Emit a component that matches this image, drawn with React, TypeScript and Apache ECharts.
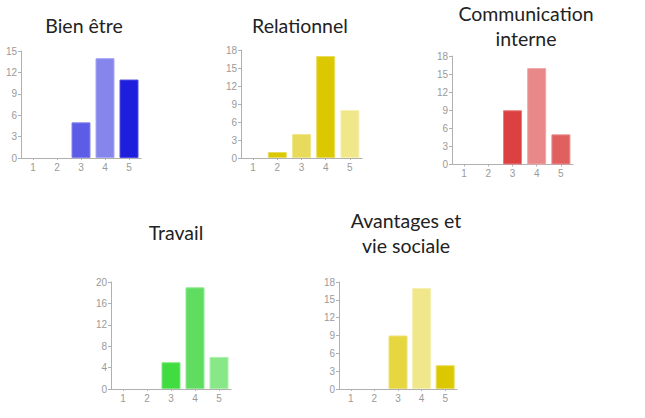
import React, { useEffect, useRef } from 'react';
import * as echarts from 'echarts';

const categories = ['1', '2', '3', '4', '5'];
const titles = ['Bien être', 'Relationnel', 'Communication\ninterne', 'Travail', 'Avantages et\nvie sociale'];
const bienEtre = [0, 0, 5, 14, 11];
const relationnel = [0, 1, 4, 17, 8];
const communication = [0, 0, 9, 16, 5];
const travail = [0, 0, 5, 19, 6];
const avantages = [0, 0, 9, 17, 4];
const yMax = [15, 18, 18, 20, 18];
const yInterval = [3, 3, 3, 4, 3];

const seriesValues = [bienEtre, relationnel, communication, travail, avantages];

// styles
const barColors = [
  ['#5c5ce6', '#5c5ce6', '#5c5ce6', '#8585ec', '#1e1edc'],
  ['#dcc800', '#dcc800', '#e8da5a', '#dcc800', '#f0e68a'],
  ['#dc4040', '#dc4040', '#dc4040', '#e88888', '#e06060'],
  ['#40dc40', '#40dc40', '#40dc40', '#60dc60', '#88e888'],
  ['#e6d640', '#e6d640', '#e6d640', '#f0e68a', '#dcc800'],
];
const borderColors = [
  ['#8484ee', '#8484ee', '#8484ee', '#a8a8f4', '#5050e6'],
  ['#e8dc60', '#e8dc60', '#f0e68e', '#e8dc60', '#f6f0b4'],
  ['#e87c7c', '#e87c7c', '#e87c7c', '#f0a8a8', '#e88c8c'],
  ['#7ce87c', '#7ce87c', '#7ce87c', '#90ea90', '#aaf0aa'],
  ['#eee078', '#eee078', '#eee078', '#f6f0b4', '#e8dc60'],
];

// layout
const grids = [
  { left: 21, top: 51, width: 120, height: 107 },
  { left: 241, top: 50, width: 121, height: 108 },
  { left: 452, top: 56, width: 121, height: 108.5 },
  { left: 111, top: 282, width: 120, height: 107 },
  { left: 339, top: 282, width: 118, height: 107 },
];
const titlePos = [
  { x: 84, y: 12.5 },
  { x: 300, y: 12.5 },
  { x: 526, y: 0.5 },
  { x: 176, y: 219.5 },
  { x: 406, y: 207.5 },
];

export default function App() {
  const ref = useRef<HTMLDivElement>(null);
  useEffect(() => {
    if (!ref.current) return;
    const chart = echarts.init(ref.current, undefined, { renderer: 'svg' });
    const axisGray = '#b0b0b0';
    const labelGray = '#9a9a9a';
    chart.setOption({
      animation: false,
      backgroundColor: '#ffffff',
      title: titles.map((t, i) => ({
        text: t,
        left: titlePos[i].x,
        top: titlePos[i].y,
        textAlign: 'center',
        padding: 0,
        textStyle: {
          fontFamily: 'Lato',
          fontWeight: 'normal',
          fontSize: 19.5,
          lineHeight: 25,
          color: '#222222',
        },
      })),
      grid: grids.map((g) => ({ ...g, containLabel: false })),
      xAxis: grids.map((_, i) => ({
        type: 'category',
        gridIndex: i,
        data: categories,
        axisLine: { show: true, lineStyle: { color: axisGray, width: 1 } },
        axisTick: { show: true, alignWithLabel: true, length: 2, lineStyle: { color: axisGray } },
        axisLabel: { color: labelGray, fontSize: 10, fontFamily: 'Liberation Sans', margin: 4 },
        splitLine: { show: false },
      })),
      yAxis: grids.map((_, i) => ({
        type: 'value',
        gridIndex: i,
        min: 0,
        max: yMax[i],
        interval: yInterval[i],
        axisLine: { show: true, lineStyle: { color: axisGray, width: 1 } },
        axisTick: { show: true, length: 3, lineStyle: { color: axisGray } },
        axisLabel: { color: labelGray, fontSize: 10, fontFamily: 'Liberation Sans', margin: 4 },
        splitLine: { show: false },
      })),
      series: seriesValues.map((vals, i) => ({
        type: 'bar',
        xAxisIndex: i,
        yAxisIndex: i,
        barWidth: 19,
        data: vals.map((v, j) => ({
          value: v,
          itemStyle: {
            color: barColors[i][j],
            borderColor: borderColors[i][j],
            borderWidth: v === 0 ? 0 : 1,
          },
        })),
      })),
    });
    return () => chart.dispose();
  }, []);
  return (
    <div
      ref={ref}
      style={{ position: 'fixed', left: 0, top: 0, width: 645, height: 418, background: '#fff' }}
    />
  );
}
